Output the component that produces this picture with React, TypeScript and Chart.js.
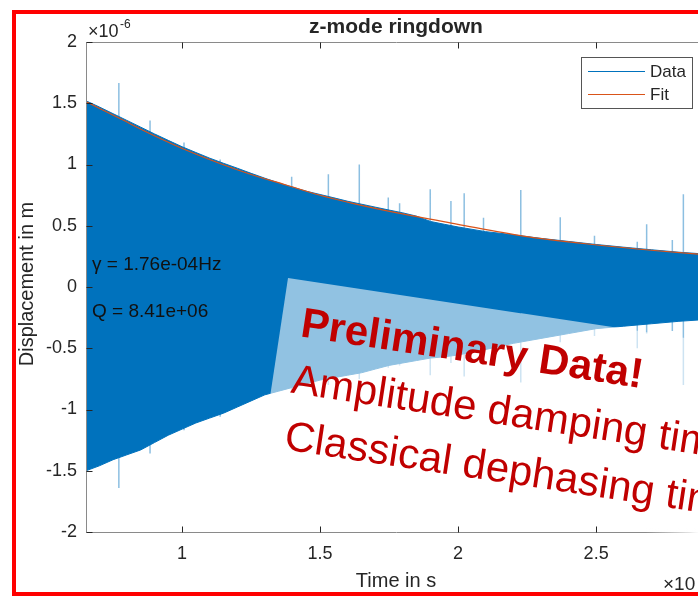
import React, { useEffect, useRef } from "react";
import { Chart, registerables } from "chart.js";
Chart.register(...registerables);

// Time axis values are in units of 10^4 s, displacement in units of 10^-6 m
const timeS = [0.652, 0.7, 0.75, 0.8, 0.85, 0.9, 0.95, 1.0, 1.05, 1.1, 1.15, 1.2, 1.25, 1.3, 1.35, 1.4, 1.45, 1.5, 1.55, 1.6, 1.65, 1.7, 1.75, 1.8, 1.85, 1.9, 1.95, 2.0, 2.1, 2.2, 2.3, 2.4, 2.5, 2.6, 2.7, 2.8, 2.9];
const dataUpper = [1.52, 1.47, 1.415, 1.36, 1.305, 1.25, 1.197, 1.145, 1.098, 1.052, 1.01, 0.97, 0.928, 0.888, 0.85, 0.815, 0.782, 0.755, 0.728, 0.7, 0.676, 0.652, 0.628, 0.605, 0.578, 0.535, 0.512, 0.49, 0.452, 0.426, 0.397, 0.372, 0.347, 0.325, 0.304, 0.284, 0.268];
const dataLower = [-1.5, -1.46, -1.41, -1.37, -1.33, -1.27, -1.21, -1.16, -1.11, -1.07, -1.03, -0.98, -0.93, -0.88, -0.85, -0.82, -0.79, -0.76, -0.74, -0.72, -0.7, -0.67, -0.64, -0.62, -0.6, -0.58, -0.57, -0.555, -0.51, -0.46, -0.42, -0.38, -0.34, -0.32, -0.3, -0.28, -0.265];

const spikeTimes = [0.771, 0.884, 1.007, 1.138, 1.397, 1.53, 1.642, 1.747, 1.788, 1.899, 1.974, 2.022, 2.092, 2.227, 2.37, 2.494, 2.649, 2.683, 2.776, 2.816];
const spikeTops = [1.665, 1.36, 1.18, 1.04, 0.9, 0.92, 1.0, 0.73, 0.683, 0.797, 0.702, 0.765, 0.566, 0.792, 0.569, 0.419, 0.37, 0.512, 0.384, 0.757];
const spikeBottoms = [-1.64, -1.36, -1.17, -1.06, -0.84, -0.8, -0.75, -0.66, -0.64, -0.72, -0.62, -0.73, -0.55, -0.78, -0.45, -0.4, -0.5, -0.38, -0.36, -0.8];

const fitTimes = [0.652, 0.773, 0.894, 1.014, 1.135, 1.256, 1.377, 1.497, 1.618, 1.775, 1.995, 2.236, 2.478, 2.72, 2.869, 2.9];
const fitValues = [1.513, 1.377, 1.241, 1.118, 1.01, 0.914, 0.833, 0.751, 0.683, 0.607, 0.514, 0.416, 0.349, 0.296, 0.269, 0.264];

const xTicks = [1, 1.5, 2, 2.5, 3];
const yTicks = [-2, -1.5, -1, -0.5, 0, 0.5, 1, 1.5, 2];
const xRange = [0.652, 2.898];
const yRange = [-2, 2];

const titleText = "z-mode ringdown";
const xLabel = "Time in s";
const yLabel = "Displacement in m";
const xExponent = "4";
const yExponent = "-6";
const legendLabels = ["Data", "Fit"];
const annotationLines = ["\u03b3 = 1.76e-04Hz", "Q = 8.41e+06"];
const stampLines = ["Preliminary Data!", "Amplitude damping time", "Classical dephasing time"];

const FONT = '"Liberation Sans", Arial, Helvetica, sans-serif';
const TXT = "#262626";
const BLUE = "#0072BD";
const ORANGE = "#D95319";

const decoPlugin = {
  id: "deco",
  afterDraw(chart: any) {
    const { ctx, chartArea: ca, scales } = chart;
    const x = scales.x;
    const y = scales.y;
    ctx.save();
    // axes box
    ctx.strokeStyle = "#8a8a8a";
    ctx.lineWidth = 1;
    const L = Math.round(ca.left) + 0.5;
    const T = Math.round(ca.top) + 0.5;
    const R = Math.round(ca.right) + 0.5;
    const B = Math.round(ca.bottom) + 0.5;
    ctx.beginPath();
    ctx.moveTo(L, T); ctx.lineTo(R, T); ctx.lineTo(R, B); ctx.lineTo(L, B); ctx.closePath();
    ctx.stroke();
    // ticks
    ctx.strokeStyle = TXT;
    ctx.beginPath();
    for (const v of xTicks) {
      const px = Math.round(x.getPixelForValue(v)) + 0.5;
      ctx.moveTo(px, B); ctx.lineTo(px, B - 6);
      ctx.moveTo(px, T); ctx.lineTo(px, T + 6);
    }
    for (const v of yTicks) {
      const py = Math.round(y.getPixelForValue(v)) + 0.5;
      ctx.moveTo(L, py); ctx.lineTo(L + 6, py);
      ctx.moveTo(R, py); ctx.lineTo(R - 6, py);
    }
    ctx.stroke();

    ctx.fillStyle = TXT;
    // title
    ctx.font = `bold 21px ${FONT}`;
    ctx.textAlign = "center";
    ctx.textBaseline = "alphabetic";
    ctx.fillText(titleText, (ca.left + ca.right) / 2, 33);
    // x label
    ctx.font = `20px ${FONT}`;
    ctx.fillText(xLabel, (ca.left + ca.right) / 2, 587);
    // y label
    ctx.save();
    ctx.translate(33, (ca.top + ca.bottom) / 2 - 3);
    ctx.rotate(-Math.PI / 2);
    ctx.fillText(yLabel, 0, 0);
    ctx.restore();
    // exponents
    ctx.textAlign = "left";
    ctx.font = `18px ${FONT}`;
    ctx.fillText("\u00d710", 88, 37);
    ctx.font = `12px ${FONT}`;
    ctx.fillText(yExponent, 120, 28);
    ctx.font = `19px ${FONT}`;
    ctx.fillText("\u00d710", 663, 590);
    ctx.font = `12px ${FONT}`;
    ctx.fillText(xExponent, 700, 581);

    // annotations
    ctx.font = `19px ${FONT}`;
    ctx.fillStyle = "#111";
    ctx.textBaseline = "middle";
    ctx.fillText(annotationLines[0], 92, 265);
    ctx.fillText(annotationLines[1], 92, 312);

    // legend
    ctx.fillStyle = "#ffffff";
    ctx.fillRect(581, 57, 111, 51);
    ctx.strokeStyle = "#555";
    ctx.strokeRect(581.5, 57.5, 111, 51);
    ctx.lineWidth = 1.2;
    ctx.strokeStyle = BLUE;
    ctx.beginPath(); ctx.moveTo(588, 71.5); ctx.lineTo(645, 71.5); ctx.stroke();
    ctx.strokeStyle = ORANGE;
    ctx.beginPath(); ctx.moveTo(588, 94.5); ctx.lineTo(645, 94.5); ctx.stroke();
    ctx.fillStyle = TXT;
    ctx.font = `17px ${FONT}`;
    ctx.textBaseline = "middle";
    ctx.fillText(legendLabels[0], 650, 72);
    ctx.fillText(legendLabels[1], 650, 95);
    ctx.restore();
  },
};

export default function App() {
  const ref = useRef<HTMLCanvasElement | null>(null);
  useEffect(() => {
    if (!ref.current) return;
    const spikePts: any[] = [];
    spikeTimes.forEach((t, i) => {
      spikePts.push({ x: t, y: spikeTops[i] });
      spikePts.push({ x: t, y: spikeBottoms[i] });
      spikePts.push({ x: t, y: null });
    });
    const chart = new Chart(ref.current, {
      type: "line",
      data: {
        datasets: [
          {
            label: "fit",
            data: fitTimes.map((t, i) => ({ x: t, y: fitValues[i] })),
            borderColor: ORANGE,
            borderWidth: 1.2,
            pointRadius: 0,
            cubicInterpolationMode: "monotone",
            fill: false,
            order: 0,
          },
          {
            label: "upper",
            data: timeS.map((t, i) => ({ x: t, y: dataUpper[i] })),
            borderColor: BLUE,
            backgroundColor: BLUE,
            borderWidth: 1,
            pointRadius: 0,
            fill: "+1",
            order: 1,
          },
          {
            label: "lower",
            data: timeS.map((t, i) => ({ x: t, y: dataLower[i] })),
            borderColor: BLUE,
            borderWidth: 1,
            pointRadius: 0,
            fill: false,
            order: 2,
          },
          {
            label: "spikes",
            data: spikePts,
            borderColor: "rgba(0,114,189,0.45)",
            borderWidth: 1.5,
            pointRadius: 0,
            spanGaps: false,
            fill: false,
            order: 3,
          },
        ],
      },
      options: {
        animation: false,
        responsive: false,
        maintainAspectRatio: false,
        events: [],
        layout: { padding: { top: 42, right: 54, left: 0, bottom: 0 } },
        plugins: { legend: { display: false }, tooltip: { enabled: false }, title: { display: false } },
        scales: {
          x: {
            type: "linear",
            min: xRange[0],
            max: xRange[1],
            grid: { display: false, drawTicks: false },
            border: { display: false },
            afterBuildTicks: (s: any) => { s.ticks = xTicks.map((v) => ({ value: v })); },
            afterFit: (s: any) => { s.height = 64; },
            ticks: {
              padding: 11,
              color: TXT,
              font: { family: FONT, size: 18 },
              maxRotation: 0,
              autoSkip: false,
              callback: (v: any) => String(v),
            },
          },
          y: {
            type: "linear",
            min: yRange[0],
            max: yRange[1],
            grid: { display: false, drawTicks: false },
            border: { display: false },
            afterBuildTicks: (s: any) => { s.ticks = yTicks.map((v) => ({ value: v })); },
            afterFit: (s: any) => { s.width = 86; },
            ticks: {
              padding: 9,
              color: TXT,
              font: { family: FONT, size: 18 },
              autoSkip: false,
              callback: (v: any) => String(v),
            },
          },
        },
      },
      plugins: [decoPlugin],
    } as any);
    return () => chart.destroy();
  }, []);

  const rad = (8.6 * Math.PI) / 180;
  return (
    <div style={{ position: "fixed", left: 0, top: 0, width: 698, height: 596, overflow: "hidden", background: "#fff" }}>
      <canvas ref={ref} width={760} height={596} style={{ position: "absolute", left: 0, top: 0, width: 760, height: 596 }} />
      <div
        style={{
          position: "absolute",
          left: 288,
          top: 278,
          width: 620,
          height: 191,
          background: "rgba(255,255,255,0.57)",
          transform: `rotate(${rad}rad)`,
          transformOrigin: "0 0",
          pointerEvents: "none",
        }}
      >
        <div style={{ position: "absolute", left: 20, top: 56 - 38, font: `bold 42px ${FONT}`, color: "#C00000", whiteSpace: "nowrap", lineHeight: "48px" }}>{stampLines[0]}</div>
        <div style={{ position: "absolute", left: 19, top: 113 - 38, font: `42px ${FONT}`, color: "#C00000", whiteSpace: "nowrap", lineHeight: "48px" }}>{stampLines[1]}</div>
        <div style={{ position: "absolute", left: 21, top: 170 - 38, font: `42px ${FONT}`, color: "#C00000", whiteSpace: "nowrap", lineHeight: "48px" }}>{stampLines[2]}</div>
      </div>
      <div
        style={{
          position: "absolute",
          left: 645,
          top: 528,
          width: 53,
          height: 7,
          background: "linear-gradient(to right, rgba(255,255,255,0), rgba(255,255,255,0.9))",
          pointerEvents: "none",
        }}
      />
      <div
        style={{
          position: "absolute",
          left: 12,
          top: 10,
          width: 800,
          height: 578,
          border: "4px solid #FF0000",
          boxSizing: "content-box",
          pointerEvents: "none",
        }}
      />
    </div>
  );
}
